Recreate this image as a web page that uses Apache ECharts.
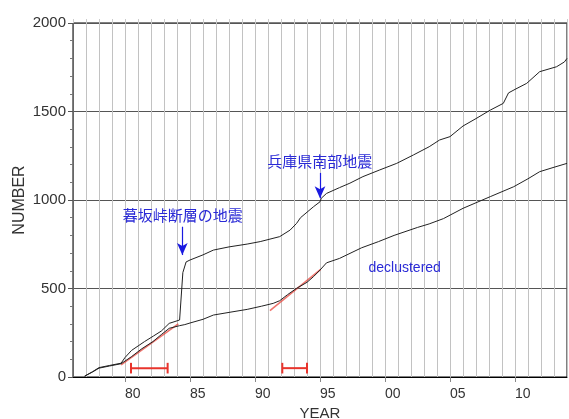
<!DOCTYPE html>
<html><head><meta charset="utf-8">
<script src="https://cdn.jsdelivr.net/npm/echarts@6/dist/echarts.min.js"></script>
<style>html,body{margin:0;padding:0;background:#fff}#c{width:569px;height:419px}</style>
</head><body><div id="c"></div>
<script>
// cumulative number of events (all events)
const totalYears = [1976.9,1977.5,1978.0,1978.8,1979.7,1980.0,1980.5,1981.0,1981.5,1982.2,1982.8,1983.4,1984.2,1984.35,1984.45,1984.7,1985.0,1986.0,1986.8,1988.0,1989.4,1990.4,1991.9,1992.7,1993.2,1993.5,1994.5,1995.0,1995.1,1995.5,1996.5,1997.3,1998.3,1999.6,2000.9,2002.2,2003.4,2004.2,2005.0,2006.0,2007.0,2008.1,2009.1,2009.5,2010.0,2010.9,2011.9,2013.2,2013.8,2014.0];
const totalCount = [5,30,53,65,78,110,150,175,200,232,260,303,322,330,590,650,661,690,717,735,751,765,793,830,868,900,962,990,1010,1037,1070,1095,1132,1170,1207,1255,1301,1339,1358,1418,1460,1508,1546,1605,1625,1659,1725,1753,1780,1800];
// cumulative number of events (declustered)
const declYears = [1976.9,1977.5,1978.0,1978.8,1979.7,1980.5,1981.3,1982.15,1982.8,1983.4,1984.2,1984.6,1985.0,1986.0,1986.8,1988.0,1989.4,1990.5,1991.4,1991.9,1992.5,1993.2,1994.0,1994.5,1995.0,1995.5,1996.5,1998.2,1999.5,2000.7,2002.5,2003.4,2004.5,2006.0,2008.1,2009.9,2011.0,2011.9,2013.0,2014.0];
const declCount = [5,28,50,62,75,115,160,200,240,275,290,296,305,326,350,365,382,400,416,431,465,501,535,567,604,645,670,730,765,800,845,865,895,953,1019,1075,1120,1160,1185,1207];
// fitted trend segments (red)
const trend1 = [[1979.7,68],[1984.1,300]];
const trend2 = [[1991.15,375],[1995.05,608]];
// period bars (red)
const periods = [[1980.46,1983.28],[1992.1,1994.0]];
const periodLevel = 50;
// annotation arrows [year, from, to]
const arrows = [[1984.41,849,689],[1995.0,1153,1010]];
const xTickYears = [1980,1985,1990,1995,2000,2005,2010];

const zip = (a,b)=>a.map((v,i)=>[v,b[i]]);
const red = '#e8342c';
const series = [
  {type:'line',data:zip(totalYears,totalCount),symbol:'none',lineStyle:{color:'#222',width:1},z:5},
  {type:'line',data:zip(declYears,declCount),symbol:'none',lineStyle:{color:'#222',width:1},z:5},
  {type:'line',data:trend1,symbol:'none',lineStyle:{color:'rgba(232,70,60,0.75)',width:1.6},z:4},
  {type:'line',data:trend2,symbol:'none',lineStyle:{color:'rgba(232,70,60,0.75)',width:1.6},z:4},
];
periods.forEach(p=>{
  series.push({type:'line',data:[[p[0],periodLevel],[p[1],periodLevel]],symbol:'none',lineStyle:{color:red,width:2},z:6});
  p.forEach(x=>series.push({type:'line',data:[[x,periodLevel-30],[x,periodLevel+30]],symbol:'none',lineStyle:{color:red,width:2},z:6}));
});
series.push({type:'line',data:[],symbol:'none',
  markLine:{silent:true,symbol:['none','arrow'],symbolSize:[8,12],label:{show:false},
    lineStyle:{color:'#1a1ae0',width:1.2,type:'solid'},
    data:arrows.map(a=>[{coord:[a[0],a[1]]},{coord:[a[0],a[2]]}])}});

const chart = echarts.init(document.getElementById('c'));
chart.setOption({
  animation:false,
  grid:{left:73,right:2,top:23,bottom:42,containLabel:false,outerBoundsMode:'none',show:true,borderColor:'#000',borderWidth:1},
  xAxis:[{type:'value',min:1976,max:2014,interval:1,
    name:'YEAR',nameLocation:'middle',nameGap:28,
    nameTextStyle:{fontFamily:'Liberation Sans',fontSize:15,color:'#333'},
    axisLine:{lineStyle:{color:'#000'}},
    axisTick:{customValues:xTickYears,length:5,lineStyle:{color:'#888'}},
    axisLabel:{customValues:xTickYears,formatter:v=>String(v%100).padStart(2,'0'),align:'left',margin:10,
      fontFamily:'Liberation Sans',fontSize:14,color:'#333'},
    splitLine:{show:false}},
   {type:'value',position:'top',min:1976,max:2014,interval:1,
    axisLine:{show:false},axisTick:{show:true,length:4,lineStyle:{color:'#ccc'}},axisLabel:{show:false},
    splitLine:{show:true,lineStyle:{color:'#c2c2c2',width:1}}}],
  yAxis:{type:'value',min:0,max:2000,interval:500,
    axisLine:{show:true,lineStyle:{color:'#666'}},
    axisTick:{show:true,length:5,lineStyle:{color:'#555'}},
    minorTick:{show:true,splitNumber:5,length:3,lineStyle:{color:'#777'}},
    axisLabel:{fontFamily:'Liberation Sans',fontSize:15,color:'#333',margin:7,formatter:v=>String(v)},
    splitLine:{show:true,lineStyle:{color:'#555',width:1}}},
  graphic:[
    {type:'text',x:20,y:200,rotation:Math.PI/2,style:{text:'NUMBER',fontFamily:'Liberation Sans',fontSize:16,fill:'#333',align:'center',verticalAlign:'middle'},z:10},
    {type:'text',x:182.7,y:215.7,style:{text:'暮坂峠断層の地震',fontFamily:'Noto Sans CJK JP',fontSize:15,fill:'#2a2ad6',align:'center',verticalAlign:'middle'},z:10},
    {type:'text',x:319.7,y:161.7,style:{text:'兵庫県南部地震',fontFamily:'Noto Sans CJK JP',fontSize:15,fill:'#2a2ad6',align:'center',verticalAlign:'middle'},z:10},
    {type:'text',x:404.7,y:268.3,style:{text:'declustered',fontFamily:'Liberation Sans',fontSize:14,fill:'#2a2ad6',align:'center',verticalAlign:'middle'},z:10}
  ],
  series
});
</script></body></html>
